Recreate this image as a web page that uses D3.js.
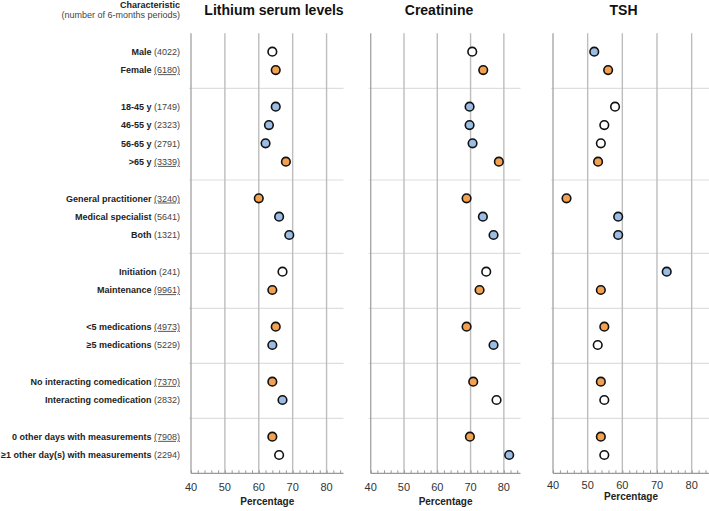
<!DOCTYPE html>
<html><head><meta charset="utf-8">
<script src="https://cdn.jsdelivr.net/npm/d3@7"></script>
<style>body{margin:0;background:#fff;} svg{display:block;font-family:"Liberation Sans",Arial,sans-serif;}</style>
</head><body>
<script>
// Data
const names = ["Male","Female","18-45 y","46-55 y","56-65 y",">65 y","General practitioner","Medical specialist","Both","Initiation","Maintenance","<5 medications","\u22655 medications","No interacting comedication","Interacting comedication","0 other days with measurements","\u22651 other day(s) with measurements"];
const counts = ["4022","6180","1749","2323","2791","3339","3240","5641","1321","241","9961","4973","5229","7370","2832","7908","2294"];
const underlined = [false,true,false,false,false,true,true,false,false,false,true,true,false,true,false,true,false];
const rowSlot = [0,1,3,4,5,6,8,9,10,12,13,15,16,18,19,21,22];
const separatorSlots = [2,7,11,14,17,20];
const panelTitles = ["Lithium serum levels","Creatinine","TSH"];
const lithium = [64,65,65,63,62,68,60,66,69,67,64,65,64,64,67,64,66];
const creatinine = [70.5,73.8,69.7,69.7,70.6,78.5,68.8,73.7,76.9,74.7,72.7,68.8,76.9,70.8,77.8,69.8,81.6];
const tsh = [51.9,55.9,57.9,54.8,53.8,53,43.9,58.8,58.8,72.8,53.8,54.8,52.9,53.8,54.8,53.8,54.8];
// status: w = reference, o = orange, b = blue
const lithiumStatus = ["w","o","b","b","b","o","o","b","b","w","o","o","b","o","b","o","w"];
const creatinineStatus = ["w","o","b","b","b","o","o","b","b","w","o","o","b","o","w","o","b"];
const tshStatus = ["b","o","w","w","w","o","o","b","b","b","o","o","w","o","w","o","w"];
const xTicks = [40,50,60,70,80];
const xDomain = [40,85];

const W=709,H=511;
const svg=d3.select("body").append("svg").attr("width",W).attr("height",H);
const y=d3.scaleLinear().domain([0,22]).range([51.7,455]);
const yTop=y(-1), yBot=y(23);
const fillMap={w:"#ffffff",o:"#F2A052",b:"#9BBCE4"};

// header
svg.append("text").attr("x",180).attr("y",8).attr("text-anchor","end").attr("font-size",9).attr("font-weight","bold").attr("fill","#222").text("Characteristic");
svg.append("text").attr("x",180).attr("y",18).attr("text-anchor","end").attr("font-size",9).attr("fill","#444").text("(number of 6-months periods)");

// row labels
names.forEach((n,i)=>{
  const t=svg.append("text").attr("x",180).attr("y",y(rowSlot[i])+3.2).attr("text-anchor","end").attr("font-size",9);
  t.append("tspan").attr("font-weight","bold").attr("fill","#222").text(n+" ");
  t.append("tspan").attr("fill","#444").attr("text-decoration",underlined[i]?"underline":null).text("("+counts[i]+")");
});

const panels=[
  {vals:lithium,status:lithiumStatus,x0:191,x1:343.5,titleX:274,tickY:491,labY:505},
  {vals:creatinine,status:creatinineStatus,x0:370.7,x1:520.5,titleX:439,tickY:491,labY:505},
  {vals:tsh,status:tshStatus,x0:553,x1:709,titleX:623.5,tickY:489,labY:500}
];

panels.forEach((p,pi)=>{
  const x=d3.scaleLinear().domain(xDomain).range([p.x0,p.x1]);
  const g=svg.append("g");
  // separators
  g.selectAll("line.sep").data(separatorSlots).join("line")
    .attr("x1",x(40)-2).attr("x2",x(85)).attr("y1",d=>y(d)).attr("y2",d=>y(d))
    .attr("stroke","#dedede").attr("stroke-width",1.2);
  // grid
  g.selectAll("line.grid").data(xTicks).join("line")
    .attr("x1",d=>x(d)).attr("x2",d=>x(d)).attr("y1",yTop).attr("y2",yBot)
    .attr("stroke",d=>d===40?"#a8a8a8":"#bdbdbd").attr("stroke-width",1.4);
  // axis
  const axis=d3.axisBottom(x).tickValues(d3.range(40,86,2)).tickSize(-3).tickFormat("");
  const ag=g.append("g").attr("transform",`translate(0,${yBot})`).call(axis);
  ag.select(".domain").attr("stroke","#999").attr("stroke-width",1.2).attr("d",`M${x(40)},0H${x(85)}`);
  ag.selectAll(".tick line").attr("stroke","#999");
  g.selectAll("text.tk").data(xTicks).join("text")
    .attr("x",d=>x(d)).attr("y",p.tickY).attr("text-anchor","middle").attr("font-size",11).attr("fill","#333").text(d=>d);
  g.append("text").attr("x",(x(40)+x(85))/2).attr("y",p.labY).attr("text-anchor","middle").attr("font-size",10).attr("font-weight","bold").attr("fill","#222").text("Percentage");
  g.append("text").attr("x",p.titleX).attr("y",15).attr("text-anchor","middle").attr("font-size",14).attr("font-weight","bold").attr("fill","#111").text(panelTitles[pi]);
  // dots
  g.selectAll("circle").data(p.vals).join("circle")
    .attr("cx",d=>x(d)).attr("cy",(d,i)=>y(rowSlot[i])).attr("r",4.3)
    .attr("fill",(d,i)=>fillMap[p.status[i]]).attr("stroke","#111").attr("stroke-width",1.6);
});
</script>
</body></html>
